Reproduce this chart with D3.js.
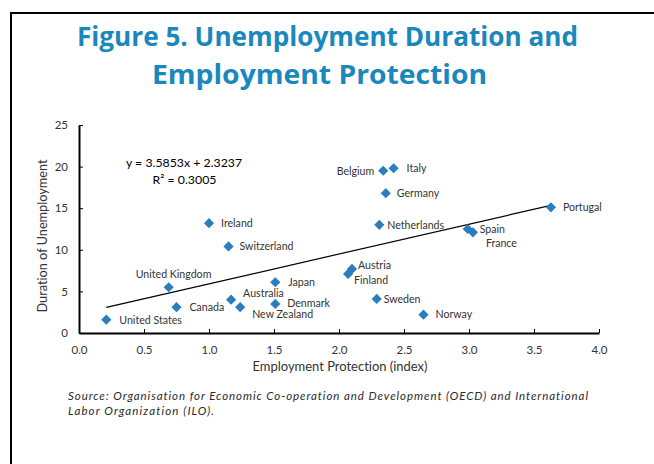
<!DOCTYPE html>
<html>
<head>
<meta charset="utf-8">
<script src="https://cdn.jsdelivr.net/npm/d3@7"></script>
<style>
  html, body { margin: 0; padding: 0; background: #fff; }
  svg { display: block; }
  text { font-variant-ligatures: none; font-feature-settings: "liga" 0; }
</style>
</head>
<body>
<svg id="chart" width="654" height="464"></svg>
<script>
// ---------- data ----------
const countries = ["United States","United Kingdom","Canada","Ireland","Switzerland","Australia","New Zealand","Japan","Denmark","Finland","Austria","Sweden","Norway","Netherlands","Belgium","Italy","Germany","Spain","France","Portugal"];
const protection = [0.21,0.69,0.75,1.00,1.15,1.17,1.24,1.51,1.51,2.07,2.10,2.29,2.65,2.31,2.34,2.42,2.36,2.99,3.03,3.63];
const duration   = [1.6, 5.5, 3.1, 13.2,10.4,4.0, 3.1, 6.1, 3.5, 7.1, 7.7, 4.1, 2.2, 13.0,19.5,19.8,16.8,12.5,12.1,15.1];
const xTicks = [0,0.5,1,1.5,2,2.5,3,3.5,4];
const yTicks = [0,5,10,15,20,25];
const trendCoef = [3.5853, 2.3237]; // slope, intercept
const trendLabel = ["y = 3.5853x + 2.3237", "R² = 0.3005"];
const titleLines = ["Figure 5. Unemployment Duration and", "Employment Protection"];
const xTitle = "Employment Protection (index)";
const yTitle = "Duration of Unemployment";
const sourceLines = ["Source:  Organisation for Economic Co-operation and Development  (OECD) and International", "Labor Organization  (ILO)."];

// ---------- label placement (style) ----------
const labelPos = {
  "United States": [13, 1, "start"],
  "United Kingdom": [-33, -13, "start"],
  "Canada": [13, 0, "start"],
  "Ireland": [12, 0, "start"],
  "Switzerland": [11, 0, "start"],
  "Australia": [12, -6, "start"],
  "New Zealand": [12, 7.5, "start"],
  "Japan": [13, 0, "start"],
  "Denmark": [12, -0.5, "start"],
  "Finland": [6, 6, "start"],
  "Austria": [6, -4, "start"],
  "Sweden": [7, 0, "start"],
  "Norway": [12, 0, "start"],
  "Netherlands": [8, 0, "start"],
  "Belgium": [-9, 1, "end"],
  "Italy": [13, 0, "start"],
  "Germany": [11, 0, "start"],
  "Spain": [12, 0, "start"],
  "France": [13, 11, "start"],
  "Portugal": [12, 0, "start"]
};

const svg = d3.select("#chart");
const font = "Lato, 'Open Sans', sans-serif";
const titleFont = "'Open Sans', Lato, sans-serif";
const textCol = "#333";
const blue = "#1a87bd";
const markerCol = "#2b7dc0";

// frame
svg.append("rect").attr("x", 11).attr("y", 13).attr("width", 700).attr("height", 500)
  .attr("fill", "none").attr("stroke", "#000").attr("stroke-width", 2);

// title
svg.append("text").attr("x", 327.5).attr("y", 46).attr("text-anchor", "middle")
  .attr("font-family", titleFont).attr("font-weight", "bold").attr("font-size", 26)
  .attr("fill", blue).attr("textLength", 501).attr("lengthAdjust", "spacingAndGlyphs")
  .text(titleLines[0]);
svg.append("text").attr("x", 319.5).attr("y", 84).attr("text-anchor", "middle")
  .attr("font-family", titleFont).attr("font-weight", "bold").attr("font-size", 26)
  .attr("fill", blue).attr("textLength", 335).attr("lengthAdjust", "spacingAndGlyphs")
  .text(titleLines[1]);

// scales
const x = d3.scaleLinear().domain([0, 4]).range([79, 599]);
const y = d3.scaleLinear().domain([0, 25]).range([333, 125]);

// axes
const xAxis = svg.append("g").attr("transform", `translate(0,${y(0)})`)
  .call(d3.axisBottom(x).tickValues(xTicks).tickFormat(d3.format(".1f"))
    .tickSizeInner(-4).tickSizeOuter(0).tickPadding(13));
const yAxis = svg.append("g").attr("transform", `translate(${x(0)},0)`)
  .call(d3.axisLeft(y).tickValues(yTicks).tickFormat(d3.format("d"))
    .tickSizeInner(-4).tickSizeOuter(0).tickPadding(11));
[xAxis, yAxis].forEach(g => {
  g.select(".domain").attr("stroke", "#000").attr("stroke-width", 2);
  g.selectAll(".tick line").attr("stroke", "#000").attr("stroke-width", 1);
  g.selectAll(".tick text").attr("font-family", font).attr("font-size", 11.5).attr("fill", textCol);
});

// axis titles
svg.append("text").attr("x", 340).attr("y", 371).attr("text-anchor", "middle")
  .attr("font-family", font).attr("font-size", 12.5).attr("fill", textCol)
  .attr("textLength", 175).attr("lengthAdjust", "spacingAndGlyphs").text(xTitle);
svg.append("text").attr("transform", `translate(47,${236}) rotate(-90)`).attr("text-anchor", "middle")
  .attr("font-family", font).attr("font-size", 12.5).attr("fill", textCol)
  .attr("textLength", 153).attr("lengthAdjust", "spacingAndGlyphs").text(yTitle);

// trendline
const xExt = d3.extent(protection);
const trend = xExt.map(v => [v, trendCoef[0] * v + trendCoef[1]]);
svg.append("path").datum(trend)
  .attr("d", d3.line().x(d => x(d[0])).y(d => y(d[1])))
  .attr("stroke", "#000").attr("stroke-width", 1.2).attr("fill", "none");

// equation
svg.append("text").attr("x", 184).attr("y", 167).attr("text-anchor", "middle")
  .attr("font-family", font).attr("font-size", 12.3).attr("fill", "#000").text(trendLabel[0]);
svg.append("text").attr("x", 184.5).attr("y", 183.5).attr("text-anchor", "middle")
  .attr("font-family", font).attr("font-size", 12.3).attr("fill", "#000").text(trendLabel[1]);

// points
const pts = countries.map((c, i) => ({ c, x: protection[i], y: duration[i] }));
const sym = d3.symbol().type(d3.symbolSquare).size(52);
svg.append("g").selectAll("path").data(pts).join("path")
  .attr("d", sym)
  .attr("transform", d => `translate(${x(d.x)},${y(d.y)}) rotate(45)`)
  .attr("fill", markerCol);

// labels
svg.append("g").selectAll("text").data(pts).join("text")
  .attr("x", d => x(d.x) + labelPos[d.c][0])
  .attr("y", d => y(d.y) + labelPos[d.c][1])
  .attr("dy", "0.35em")
  .attr("text-anchor", d => labelPos[d.c][2])
  .attr("font-family", font).attr("font-size", 10.6).attr("fill", textCol)
  .text(d => d.c);

// source
const srcLen = [520, 146];
sourceLines.forEach((s, i) => {
  svg.append("text").attr("x", 68).attr("y", 400 + i * 15)
    .attr("font-family", font).attr("font-style", "italic").attr("font-size", 11.5)
    .attr("fill", "#2a2a2a").attr("textLength", srcLen[i]).attr("lengthAdjust", "spacing")
    .text(s);
});
</script>
</body>
</html>
